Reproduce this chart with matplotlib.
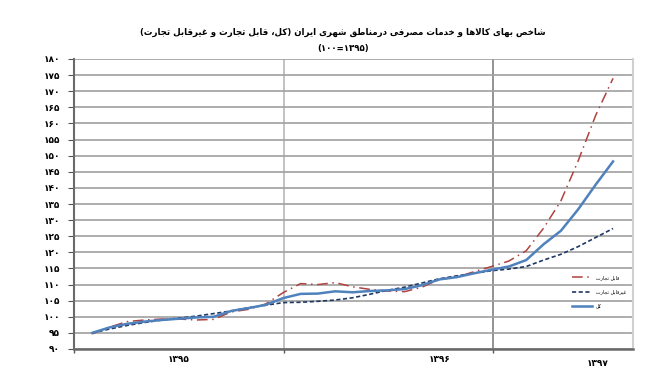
import matplotlib
matplotlib.use("Agg")
import matplotlib.pyplot as plt

# ---------------- data ----------------
months = list(range(31))  # 1395/01 .. 1397/07
total = [95.0, 96.7, 97.8, 98.5, 99.0, 99.4, 99.8, 100.0, 101.8, 102.7, 103.7,
         105.8, 107.1, 107.2, 107.9, 107.6, 108.0, 108.2, 108.6, 109.8, 111.6,
         112.3, 113.5, 114.6, 115.6, 117.6, 122.5, 126.7, 133.4, 141.0, 148.2]
tradable = [94.7, 96.8, 98.5, 99.0, 99.3, 99.3, 99.0, 99.2, 101.5, 102.3, 104.0,
            107.5, 110.3, 110.0, 110.6, 109.3, 108.5, 108.0, 107.8, 109.2, 111.6,
            112.3, 114.0, 115.6, 117.3, 120.5, 127.5, 136.0, 148.5, 162.5, 174.0]
nontradable = [95.0, 96.2, 97.3, 98.2, 99.0, 99.6, 100.2, 101.0, 101.8, 102.8, 103.6,
               104.4, 104.5, 104.8, 105.2, 105.9, 107.0, 108.2, 109.2, 110.5, 111.8,
               112.7, 113.5, 114.3, 114.8, 115.6, 117.6, 119.4, 121.8, 124.6, 127.4]
yticks = list(range(90, 181, 5))
year_labels = ["1395", "1396", "1397"]
year_label_pos = [5.0, 20.0, 29.1]
year_bounds = [11.05, 23.1]
series_names = ["قابل تجارت", "غیرقابل تجارت", "کل"]
title_line1 = "شاخص بهای کالاها و خدمات مصرفی درمناطق شهری ایران (کل، قابل تجارت و غیرقابل تجارت)"
title_line2_visual = "(100=1395)"

# ---------------- simple Persian shaping ----------------
FORMS = {
    '\u0627': ('\uFE8D', '\uFE8E', None, None),
    '\u0622': ('\uFE81', '\uFE82', None, None),
    '\u0628': ('\uFE8F', '\uFE90', '\uFE91', '\uFE92'),
    '\u067E': ('\uFB56', '\uFB57', '\uFB58', '\uFB59'),
    '\u062A': ('\uFE95', '\uFE96', '\uFE97', '\uFE98'),
    '\u062B': ('\uFE99', '\uFE9A', '\uFE9B', '\uFE9C'),
    '\u062C': ('\uFE9D', '\uFE9E', '\uFE9F', '\uFEA0'),
    '\u0686': ('\uFB7A', '\uFB7B', '\uFB7C', '\uFB7D'),
    '\u062D': ('\uFEA1', '\uFEA2', '\uFEA3', '\uFEA4'),
    '\u062E': ('\uFEA5', '\uFEA6', '\uFEA7', '\uFEA8'),
    '\u062F': ('\uFEA9', '\uFEAA', None, None),
    '\u0630': ('\uFEAB', '\uFEAC', None, None),
    '\u0631': ('\uFEAD', '\uFEAE', None, None),
    '\u0632': ('\uFEAF', '\uFEB0', None, None),
    '\u0698': ('\uFB8A', '\uFB8B', None, None),
    '\u0633': ('\uFEB1', '\uFEB2', '\uFEB3', '\uFEB4'),
    '\u0634': ('\uFEB5', '\uFEB6', '\uFEB7', '\uFEB8'),
    '\u0635': ('\uFEB9', '\uFEBA', '\uFEBB', '\uFEBC'),
    '\u0636': ('\uFEBD', '\uFEBE', '\uFEBF', '\uFEC0'),
    '\u0637': ('\uFEC1', '\uFEC2', '\uFEC3', '\uFEC4'),
    '\u0638': ('\uFEC5', '\uFEC6', '\uFEC7', '\uFEC8'),
    '\u0639': ('\uFEC9', '\uFECA', '\uFECB', '\uFECC'),
    '\u063A': ('\uFECD', '\uFECE', '\uFECF', '\uFED0'),
    '\u0641': ('\uFED1', '\uFED2', '\uFED3', '\uFED4'),
    '\u0642': ('\uFED5', '\uFED6', '\uFED7', '\uFED8'),
    '\u06A9': ('\uFB8E', '\uFB8F', '\uFB90', '\uFB91'),
    '\u06AF': ('\uFB92', '\uFB93', '\uFB94', '\uFB95'),
    '\u0644': ('\uFEDD', '\uFEDE', '\uFEDF', '\uFEE0'),
    '\u0645': ('\uFEE1', '\uFEE2', '\uFEE3', '\uFEE4'),
    '\u0646': ('\uFEE5', '\uFEE6', '\uFEE7', '\uFEE8'),
    '\u0648': ('\uFEED', '\uFEEE', None, None),
    '\u0647': ('\uFEE9', '\uFEEA', '\uFEEB', '\uFEEC'),
    '\u06CC': ('\uFBFC', '\uFBFD', '\uFBFE', '\uFBFF'),
}
LAMALEF = {'\u0627': ('\uFEFB', '\uFEFC'), '\u0622': ('\uFEF5', '\uFEF6')}


def shape(text):
    res = []
    prev_dual = False
    i = 0
    while i < len(text):
        c = text[i]
        if c == '\u0644' and i + 1 < len(text) and text[i + 1] in LAMALEF:
            lig = LAMALEF[text[i + 1]]
            res.append(lig[1] if prev_dual else lig[0])
            prev_dual = False
            i += 2
            continue
        if c in FORMS:
            f = FORMS[c]
            nxt = text[i + 1] if i + 1 < len(text) else ''
            can_next = f[2] is not None and nxt in FORMS
            if prev_dual and can_next:
                g = f[3]
            elif prev_dual:
                g = f[1]
            elif can_next:
                g = f[2]
            else:
                g = f[0]
            res.append(g)
            prev_dual = f[2] is not None
        else:
            res.append(c)
            prev_dual = False
        i += 1
    return ''.join(res)


def rtl(text):
    s = shape(text)
    mirror = {'(': ')', ')': '('}
    return ''.join(mirror.get(ch, ch) for ch in reversed(s))


FA_DIGITS = str.maketrans('0123456789', '۰۱۲۳۴۵۶۷۸۹')


def fa(s):
    return str(s).translate(FA_DIGITS)


# ---------------- figure ----------------
plt.rcParams['font.family'] = ['DejaVu Sans']
fig = plt.figure(figsize=(6.62, 3.86), dpi=100)
ax = fig.add_axes([74 / 662, 1 - 349 / 386, (633 - 74) / 662, (349 - 59) / 386])

ax.set_ylim(90, 180)
ax.set_xlim(-1.05, 31.15)
ax.set_yticks(yticks)
ax.set_yticklabels([fa(v) for v in yticks], fontsize=6.5, fontweight='bold')
ax.yaxis.grid(True, color='#a0a0a0', linewidth=1.2)
ax.set_axisbelow(True)

ax.axvline(year_bounds[0], color='#b8b8b8', linewidth=1.2, zorder=0)
ax.axvline(year_bounds[1], color='#808080', linewidth=1.2, zorder=0)

ax.set_xticks([-1.05] + year_bounds)
ax.set_xticklabels([])
ax.tick_params(axis='x', length=3, width=1, color='#555555')
ax.tick_params(axis='y', length=4, width=0.8, color='#555555', pad=6)

ax.spines['top'].set_visible(False)
ax.spines['right'].set_color('#d0d0d0')
ax.spines['right'].set_linewidth(1.5)
ax.spines['left'].set_color('#6a6a6a')
ax.spines['left'].set_linewidth(1.5)
ax.spines['bottom'].set_color('#6a6a6a')
ax.spines['bottom'].set_linewidth(1.8)

for lab, pos in zip(year_labels, year_label_pos):
    dy = -0.035 if lab != "1397" else -0.05
    ax.text(pos, dy, fa(lab), transform=ax.get_xaxis_transform(), ha='center',
            va='center', fontsize=6.5, fontweight='bold')

l_tr, = ax.plot(months, tradable, color='#b0413e', linewidth=1.1,
                dashes=(7, 3, 1, 3), label=rtl(series_names[0]))
l_nt, = ax.plot(months, nontradable, color='#1f3864', linewidth=1.2,
                dashes=(2.5, 1.5), label=rtl(series_names[1]))
l_tot, = ax.plot(months, total, color='#4f81bd', linewidth=1.8,
                 label=rtl(series_names[2]))

ax.legend(handles=[l_tr, l_nt, l_tot], loc='upper left', bbox_to_anchor=(0.89, 0.255),
          frameon=False, fontsize=3.5, handlelength=4.2, handletextpad=0.8,
          labelspacing=1.9, borderpad=0, borderaxespad=0)

fig.text(343 / 662, 1 - 32 / 386, rtl(title_line1), ha='center', va='center',
         fontsize=6.2, fontweight='bold')
fig.text(343 / 662, 1 - 48 / 386, fa(title_line2_visual), ha='center', va='center',
         fontsize=6.2, fontweight='bold')

fig.savefig('out.png', dpi=100)
